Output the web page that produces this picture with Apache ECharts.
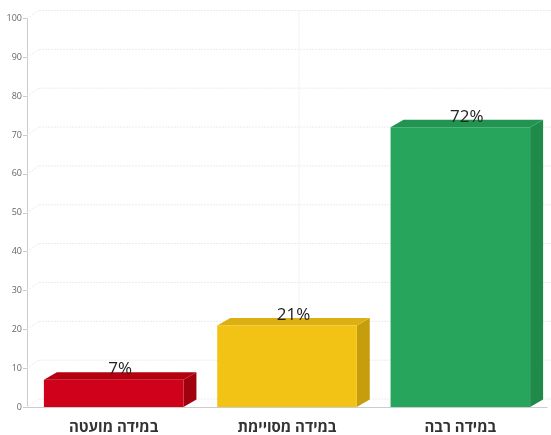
<!DOCTYPE html>
<html><head><meta charset="utf-8">
<script src="https://cdn.jsdelivr.net/npm/echarts@6/dist/echarts.min.js"></script>
<style>html,body{margin:0;padding:0;background:#fff}#c{width:551px;height:435px}</style>
</head><body><div id="c"></div>
<script>
const categories = ['במידה מועטה', 'במידה מסויימת', 'במידה רבה'];
const values = [7, 21, 72];
const yTicks = [0, 10, 20, 30, 40, 50, 60, 70, 80, 90, 100];
const labels = ['7%', '21%', '72%'];

const frontColors = ['#d0021b', '#f2c314', '#27a55c'];
const topColors = ['#b5000f', '#dcb010', '#229452'];
const sideColors = ['#a1000e', '#c69e0d', '#1f8a4a'];

const chart = echarts.init(document.getElementById('c'), null, {renderer: 'canvas'});
const GDX = 12, GDY = -8, BDX = 13, BDY = -7.5;

chart.setOption({
  animation: false,
  grid: {left: 27, right: 4, top: 18.5, bottom: 26.5, containLabel: false},
  xAxis: {
    type: 'category', data: categories,
    axisLine: {lineStyle: {color: '#cccccc'}},
    axisTick: {alignWithLabel: true, length: 4, lineStyle: {color: '#cccccc'}},
    axisLabel: {fontFamily: 'Open Sans', fontWeight: 'bold', fontSize: 15, color: '#333', margin: 13},
    splitLine: {show: false}
  },
  yAxis: {
    type: 'value', min: 0, max: 100, interval: 10,
    axisLine: {show: true, lineStyle: {color: '#cccccc'}},
    axisTick: {show: true, length: 4, lineStyle: {color: '#cccccc'}},
    axisLabel: {fontFamily: 'Open Sans', fontSize: 9, color: '#666', margin: 5},
    splitLine: {show: false}
  },
  series: [
    {
      type: 'custom', z: 1, silent: true,
      data: yTicks.map(t => [0, t]),
      renderItem: function (params, api) {
        const p = api.coord([0, api.value(1)]);
        const cs = params.coordSys;
        const x0 = cs.x, right = cs.x + cs.width + GDX;
        const y = p[1];
        const st = {stroke: '#ececec', lineWidth: 1, lineDash: [2, 1]};
        const children = [
          {type: 'line', shape: {x1: x0, y1: y, x2: x0 + GDX, y2: y + GDY}, style: st},
          {type: 'line', shape: {x1: x0 + GDX, y1: y + GDY, x2: right, y2: y + GDY}, style: st}
        ];
        if (params.dataIndex === 0) {
          const mid = api.coord([Math.floor(categories.length / 2), 0])[0];
          const topY = cs.y;
          children.push({type: 'line', shape: {x1: mid + GDX, y1: topY + GDY, x2: mid + GDX, y2: y + GDY}, style: st});
        }
        return {type: 'group', children: children};
      }
    },
    {
      type: 'custom', z: 5,
      data: values.map((v, i) => [i, v]),
      renderItem: function (params, api) {
        const i = params.dataIndex;
        const top = api.coord([api.value(0), api.value(1)]);
        const base = api.coord([api.value(0), 0]);
        const w = api.size([1, 0])[0] * 0.805;
        const x0 = top[0] - w / 2, x1 = top[0] + w / 2;
        const ty = top[1], by = base[1];
        return {type: 'group', children: [
          {type: 'polygon', shape: {points: [[x1, ty], [x1 + BDX, ty + BDY], [x1 + BDX, by + BDY], [x1, by]]},
           style: {fill: sideColors[i]}},
          {type: 'polygon', shape: {points: [[x0, ty], [x1, ty], [x1 + BDX, ty + BDY], [x0 + BDX, ty + BDY]]},
           style: {fill: topColors[i]}},
          {type: 'rect', shape: {x: x0, y: ty, width: w, height: by - ty},
           style: {fill: frontColors[i]}},
          {type: 'text', z2: 10, style: {text: labels[i], x: top[0] + BDX / 2, y: ty + BDY - 3,
            textAlign: 'center', textVerticalAlign: 'middle',
            fontFamily: 'Open Sans', fontSize: 17, fill: '#222'}}
        ]};
      }
    }
  ]
});
</script></body></html>
